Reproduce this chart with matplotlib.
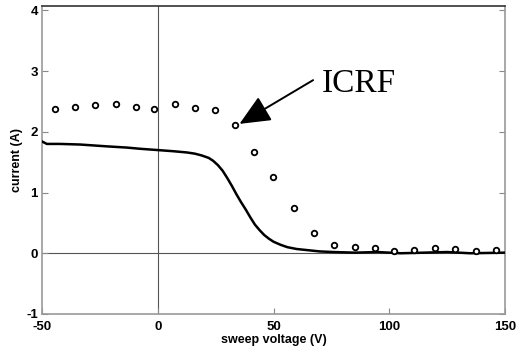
import matplotlib.pyplot as plt
import numpy as np

plt.rcParams['font.family'] = ['Liberation Sans', 'DejaVu Sans']
plt.rcParams['axes.unicode_minus'] = False

# ICRF probe points (circles)
icrf_v = np.array([-44.4, -35.7, -27.0, -18.1, -9.5, -1.6, 7.3, 16.0, 24.8, 33.4,
                   41.7, 49.9, 59.0, 67.6, 76.2, 85.1, 93.7, 102.2, 110.8, 119.9,
                   128.6, 137.4, 146.0])
icrf_i = np.array([2.38, 2.41, 2.44, 2.45, 2.40, 2.37, 2.46, 2.39, 2.36, 2.11,
                   1.67, 1.26, 0.75, 0.34, 0.14, 0.11, 0.08, 0.04, 0.06, 0.09,
                   0.07, 0.03, 0.06])

# solid sweep curve
sweep_v = np.array([-50, -47.9, -42.2, -33.5, -22.0, -13.4, -7.6, -0.4, 6.7, 12.5,
                    16, 19, 22, 24, 26, 28, 30, 32, 34, 36, 38, 40, 42, 44, 46,
                    48, 50, 53, 56, 60, 65, 70, 76, 85, 95, 105, 115, 125, 135, 150])
sweep_i = np.array([1.84, 1.80, 1.80, 1.79, 1.76, 1.74, 1.72, 1.70, 1.68, 1.66,
                    1.64, 1.61, 1.57, 1.52, 1.45, 1.36, 1.24, 1.11, 0.97, 0.84,
                    0.72, 0.59, 0.47, 0.38, 0.30, 0.24, 0.19, 0.14, 0.10, 0.07,
                    0.05, 0.03, 0.02, 0.01, 0.02, 0.0, 0.01, 0.02, 0.0, 0.01])

xticks = [-50, 0, 50, 100, 150]
yticks = [-1, 0, 1, 2, 3, 4]

fig = plt.figure(figsize=(5.16, 3.56), dpi=100)
ax = fig.add_axes([0.0814, 0.118, 0.8973, 0.865])

ax.axvline(0, color='#555555', lw=0.8, zorder=1)
ax.axhline(0, color='#555555', lw=0.8, zorder=1)

ax.plot(sweep_v, sweep_i, color='black', lw=1.8, zorder=3)
ax.plot(icrf_v, icrf_i, 'o', mfc='white', mec='black', ms=4, mew=1.3, zorder=4)

# arrow and label drawn separately
ax.annotate('', xy=(35.3, 2.13), xytext=(67.1, 2.85),
            arrowprops=dict(arrowstyle='-|>,head_length=1.9,head_width=0.85',
                            mutation_scale=10, color='black', lw=1.4,
                            shrinkA=0, shrinkB=0))
ax.text(71, 2.66, 'ICRF', fontsize=24, family='Liberation Serif', va='baseline')

ax.set_xlim(-50, 150)
ax.set_ylim(-1, 4.07)
ax.set_xticks(xticks)
ax.set_yticks(yticks)
ax.tick_params(direction='in', right=True, length=4, color='#888888',
               labelsize=9.5)
ax.tick_params(axis='x', pad=5)
ax.tick_params(axis='y', pad=3)
for lab in ax.get_xticklabels() + ax.get_yticklabels():
    lab.set_fontweight('bold')

for s in ['left', 'bottom', 'right']:
    ax.spines[s].set_color('#999999')
    ax.spines[s].set_linewidth(1.2)
ax.spines['top'].set_color('#333333')
ax.spines['top'].set_linewidth(1.2)

ax.set_xlabel('sweep voltage (V)', fontsize=9, fontweight='bold', labelpad=1)
ax.set_ylabel('current (A)', fontsize=9, fontweight='bold', labelpad=2)

fig.savefig('out.png', dpi=100)
